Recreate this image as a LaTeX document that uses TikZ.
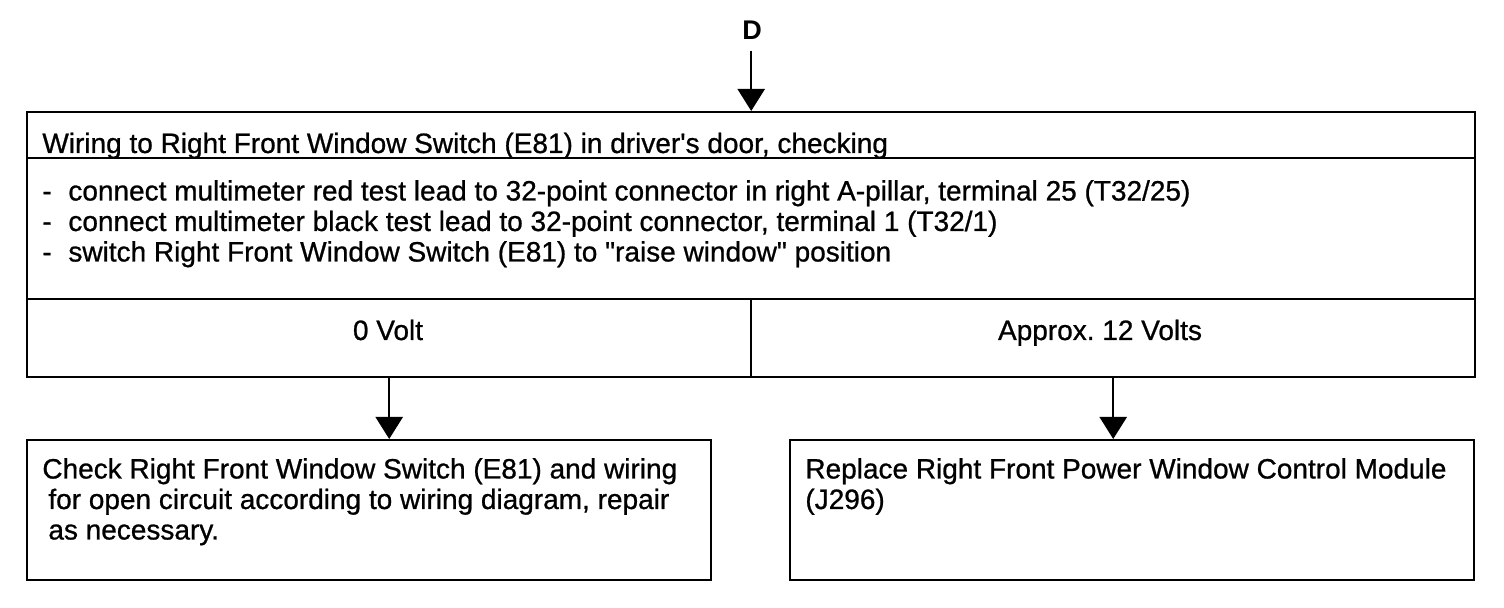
\documentclass[tikz,border=0pt]{standalone}
\usepackage{fontspec}
\setmainfont{Liberation Sans}
\newfontfamily\heavyfont[FakeBold=0.8]{Liberation Sans}
\usetikzlibrary{arrows.meta}
\begin{document}
\frenchspacing
\begin{tikzpicture}[x=0.5pt,y=-0.5pt,
  box/.style={draw, line width=1.2pt, anchor=north west, inner sep=0pt},
  txt/.style={anchor=base west, inner sep=0pt, font=\heavyfont\fontsize{14}{16}\selectfont},
  ctxt/.style={anchor=base, inner sep=0pt, font=\heavyfont\fontsize{14}{16}\selectfont},
  arr/.style={line width=1.2pt, -{Triangle[width=13.5pt,length=11pt]}}]
\useasboundingbox (0,0) rectangle (1504,608);
% boxes
\node[box, minimum width=724pt, minimum height=23pt] (title) at (26,111) {};
\node[box, minimum width=724pt, minimum height=70.5pt] (body) at (26,157) {};
\node[box, minimum width=362pt, minimum height=39pt] (lbr) at (26,298) {};
\node[box, minimum width=362pt, minimum height=39pt] (rbr) at (750,298) {};
\node[box, minimum width=342pt, minimum height=70pt] (ll) at (26,439) {};
\node[box, minimum width=342pt, minimum height=70pt] (lr) at (789,439) {};
% D
\node[inner sep=0pt, font=\bfseries\fontsize{13.5}{15}\selectfont] (D) at (752,30) {D};
\draw[arr] (D.south -| title.north) ++(0,11) coordinate (dtop) -- (title.north);
% texts
\node[txt] (t0) at (42,153) {Wiring to Right Front Window Switch (E81) in driver\textquotesingle s door, checking};
\node[txt] (b1d) at (42,200.5) {-};
\node[txt] (b1) at (68,200.5) {connect multimeter red test lead to 32-point connector in right A-pillar, terminal 25 (T32/25)};
\node[txt] (b2d) at (42,231) {-};
\node[txt] (b2) at (68,231) {connect multimeter black test lead to 32-point connector, terminal 1 (T32/1)};
\node[txt] (b3d) at (42,261.5) {-};
\node[txt] (b3) at (68,261.5) {switch Right Front Window Switch (E81) to \textquotedbl raise window\textquotedbl{} position};
\node[ctxt] (v0) at (388,340) {0 Volt};
\node[ctxt] (v12) at (1100,340) {Approx. 12 Volts};
\node[txt] (c1) at (42,478.5) {Check Right Front Window Switch (E81) and wiring};
\node[txt] (c2) at (48,509) {for open circuit according to wiring diagram, repair};
\node[txt] (c3) at (48,539.5) {as necessary.};
\node[txt] (r1) at (805,478.5) {Replace Right Front Power Window Control Module};
\node[txt] (r2) at (805,509) {(J296)};
% arrows
\draw[arr] (lbr.south) -- (lbr.south |- ll.north);
\draw[arr] (rbr.south) -- (rbr.south |- lr.north);
\end{tikzpicture}
\end{document}
